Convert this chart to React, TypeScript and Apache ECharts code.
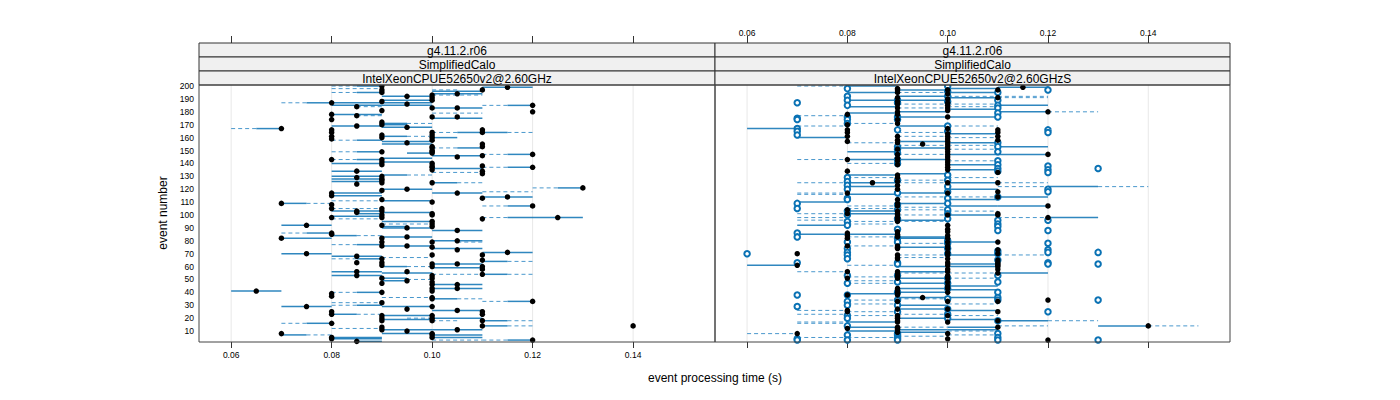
import React, { useEffect, useRef } from "react";
import * as echarts from "echarts";

// ---------- labels ----------
const stripTop = "g4.11.2.r06";
const stripMid = "SimplifiedCalo";
const panelMachines = ["IntelXeonCPUE52650v2@2.60GHz", "IntelXeonCPUE52650v2@2.60GHzS"];
const xTicks = [0.06, 0.08, 0.1, 0.12, 0.14];
const yTicks = [10, 20, 30, 40, 50, 60, 70, 80, 90, 100, 110, 120, 130, 140, 150, 160, 170, 180, 190, 200];
const xTitle = "event processing time (s)";
const yTitle = "event number";

// ---------- left panel (IntelXeonCPUE52650v2@2.60GHz) ----------
// black points: [time, event]
const leftDots: [number, number][] = [
  [0.09,200],[0.09,197],[0.09,195],[0.115,199],[0.11,197],[0.105,194],[0.095,192],[0.1,193],[0.1,191],[0.1,189],
  [0.095,186],[0.08,187],[0.09,188],[0.085,184],[0.12,185],[0.12,180],[0.105,183],[0.1,183],[0.09,181],[0.1,176],
  [0.105,176],[0.08,178],[0.085,177],[0.08,174],[0.085,169],[0.09,172],[0.09,170],[0.095,168],[0.07,167],[0.08,166],
  [0.08,164],[0.08,161],[0.08,159],[0.11,166],[0.11,164],[0.09,162],[0.09,160],[0.1,164],[0.1,162],[0.1,160],
  [0.1,158],[0.095,156],[0.11,155],[0.11,153],[0.1,153],[0.1,152],[0.1,150],[0.1,149],[0.1,148],[0.09,149],
  [0.12,147],[0.11,146],[0.105,145],[0.08,143],[0.09,143],[0.09,141],[0.09,139],[0.1,140],[0.1,138],[0.1,137],
  [0.1,135],[0.11,138],[0.11,134],[0.11,132],[0.12,137],[0.085,134],[0.085,129],[0.09,130],[0.09,128],[0.09,127],
  [0.09,125],[0.1,125],[0.085,124],[0.095,120],[0.09,119],[0.13,121],[0.105,117],[0.08,117],[0.08,115],[0.11,113],
  [0.115,114],[0.1,110],[0.09,112],[0.07,109],[0.08,108],[0.08,105],[0.12,107],[0.085,103],[0.09,105],[0.09,103],
  [0.1,101],
  [0.085,102],[0.09,100],[0.09,98],[0.08,98],[0.1,100],[0.125,98],[0.11,97],[0.1,95],[0.1,93],[0.1,91],
  [0.075,92],[0.09,92],[0.095,90],[0.105,88],[0.08,86],[0.08,85],[0.095,83],[0.09,82],[0.07,82],[0.105,80],
  [0.1,79],[0.09,79],[0.09,76],[0.095,76],[0.1,75],[0.105,73],[0.115,71],[0.11,69],[0.1,69],[0.075,70],
  [0.085,68],[0.085,63],[0.09,66],[0.09,63],[0.09,61],[0.11,65],[0.105,62],[0.1,62],[0.1,60],[0.11,58],
  [0.11,60],[0.085,56],[0.085,53],[0.095,56],[0.11,54],[0.1,53],[0.1,51],[0.1,48],[0.1,46],[0.1,43],
  [0.1,41],[0.09,51],[0.09,47],[0.095,49],[0.105,46],[0.105,43],[0.065,41],[0.09,40],[0.08,39],[0.08,37],
  [0.1,36],[0.1,35],[0.12,33],[0.09,32],[0.075,29],[0.1,29],[0.095,27],[0.105,26],[0.11,25],[0.11,23],
  [0.08,25],[0.08,23],[0.09,22],[0.09,20],[0.09,18],[0.1,22],[0.1,20],[0.1,18],[0.11,18],[0.08,16],
  [0.11,14],[0.09,13],[0.09,11],[0.105,11],[0.095,10],[0.07,8],[0.1,8],[0.1,7],[0.1,5],[0.08,5],
  [0.08,4],[0.085,2],[0.12,3],[0.14,14],
];
// solid runs: [event, from, to]
const leftSolid: [number, number, number][] = [
  [200,0.085,0.09],[195,0.085,0.09],[199,0.11,0.12],[196,0.1,0.11],[194,0.1,0.11],[192,0.09,0.1],[189,0.09,0.1],
  [187,0.09,0.1],[185,0.09,0.1],[187,0.075,0.08],[187,0.08,0.09],[185,0.08,0.09],[185,0.115,0.12],[183,0.1,0.11],
  [175,0.1,0.11],[178,0.08,0.09],[169,0.08,0.09],[171,0.09,0.095],[170,0.09,0.095],[168,0.09,0.1],[167,0.065,0.07],
  [164,0.105,0.11],[164,0.11,0.115],[161,0.09,0.095],[160,0.1,0.105],[158,0.085,0.09],[157,0.09,0.1],[155,0.09,0.1],
  [152,0.105,0.11],[148,0.095,0.1],[149,0.085,0.09],[147,0.115,0.12],[146,0.1,0.11],[143,0.085,0.09],[144,0.09,0.1],
  [141,0.09,0.1],[140,0.08,0.09],[137,0.115,0.12],[136,0.1,0.11],[134,0.08,0.09],[131,0.09,0.095],[130,0.08,0.09],
  [128,0.08,0.09],[126,0.08,0.09],[125,0.1,0.105],[120,0.09,0.1],[121,0.125,0.13],[117,0.1,0.11],[117,0.08,0.09],
  [115,0.08,0.09],[114,0.11,0.12],[111,0.09,0.1],[109,0.07,0.075],[107,0.115,0.12],[103,0.08,0.09],[102,0.09,0.1],
  [101,0.085,0.09],[99,0.08,0.09],[98,0.115,0.13],[95,0.09,0.1],[92,0.07,0.08],[91,0.09,0.095],[90,0.09,0.1],
  [88,0.1,0.11],[86,0.075,0.08],[84,0.08,0.085],[83,0.09,0.1],[82,0.07,0.08],[80,0.1,0.11],[77,0.085,0.09],
  [76,0.09,0.1],[74,0.1,0.11],[71,0.11,0.12],[70,0.07,0.08],[68,0.08,0.09],[66,0.085,0.09],[64,0.11,0.115],
  [62,0.1,0.11],[60,0.09,0.095],[59,0.1,0.11],[56,0.08,0.09],[53,0.08,0.09],[55,0.09,0.1],[54,0.11,0.115],
  [51,0.09,0.095],[49,0.09,0.095],[46,0.1,0.11],[43,0.1,0.11],[41,0.06,0.07],[40,0.085,0.09],[35,0.1,0.105],
  [33,0.115,0.12],[30,0.085,0.09],[29,0.07,0.08],[29,0.09,0.1],[26,0.1,0.11],[23,0.08,0.085],[22,0.09,0.1],
  [19,0.09,0.1],[20,0.1,0.11],[18,0.11,0.115],[16,0.075,0.08],[14,0.11,0.115],[11,0.09,0.1],[11,0.1,0.11],
  [8,0.09,0.1],[7,0.07,0.075],[7,0.1,0.11],[5,0.1,0.11],[5,0.08,0.09],[4,0.08,0.09],[2,0.085,0.09],[3,0.115,0.12],
];
// dashed runs: [event, from, to]
const leftDashed: [number, number, number][] = [
  [200,0.08,0.085],[198,0.08,0.09],[195,0.08,0.085],[197,0.1,0.105],[193,0.1,0.11],[187,0.07,0.075],[184,0.085,0.09],
  [185,0.11,0.115],[179,0.1,0.11],[177,0.085,0.09],[171,0.095,0.1],[167,0.06,0.065],[164,0.1,0.105],[164,0.115,0.12],
  [161,0.095,0.1],[158,0.08,0.085],[152,0.1,0.105],[149,0.08,0.085],[147,0.11,0.115],[143,0.08,0.085],[137,0.11,0.115],
  [133,0.1,0.11],[131,0.095,0.1],[125,0.105,0.11],[121,0.12,0.125],[118,0.11,0.12],[111,0.08,0.09],[109,0.075,0.08],
  [107,0.11,0.115],[105,0.08,0.09],
  [97,0.08,0.09],[98,0.11,0.115],[93,0.09,0.1],[86,0.07,0.075],[84,0.085,0.09],[79,0.105,0.11],[77,0.08,0.085],
  [67,0.09,0.1],[66,0.08,0.085],[64,0.115,0.12],[60,0.095,0.1],[54,0.1,0.11],[54,0.115,0.12],[50,0.095,0.1],
  [40,0.08,0.085],[36,0.09,0.1],[35,0.105,0.11],[33,0.11,0.115],[32,0.08,0.09],[30,0.08,0.085],[23,0.085,0.09],
  [20,0.095,0.1],[18,0.1,0.105],[18,0.115,0.12],[16,0.07,0.075],[14,0.115,0.12],[12,0.08,0.09],[7,0.075,0.08],
  [3,0.1,0.11],[3,0.11,0.115],
];

// ---------- right panel (IntelXeonCPUE52650v2@2.60GHzS) ----------
// open blue points per time column: [time, events]
const rightRings: [number, number[]][] = [
  [0.06, [70]],
  [0.07, [187,175,174,167,165,162,109,105,86,83,63,38,29,4,3]],
  [0.08, [198,192,189,185,176,174,171,129,126,123,120,113,112,103,100,95,92,79,74,71,69,66,53,47,38,33,30,22,20,14,7,3]],
  [0.09, [189,187,176,174,166,153,151,148,143,140,127,117,108,104,97,89,82,79,63,62,53,48,40,34,30,25,8,7,5,4,3]],
  [0.1, [200,196,192,188,169,165,131,127,122,118,113,109,104,101,97,80,78,74,70,51,47,43,35,27,23,20]],
  [0.11, [195,189,185,183,179,176,156,153,149,142,139,136,134,114,96,93,91,88,72,70,65,53,48,40,36,34,18,8,5,3]],
  [0.12, [197,166,164,138,135,133,120,118,96,88,78,73,71,63,62,25]],
  [0.13, [136,71,62,34,3]],
];
// black points per time column: [time, events]
const rightDots: [number, number[]][] = [
  [0.07, [70,61,8]],
  [0.08, [178,170,166,164,161,157,143,134,117,104,101,86,84,82,76,56,51,38,26,25,12]],
  [0.085, [125]],
  [0.09, [198,197,195,191,188,186,183,180,178,174,171,161,158,156,151,147,144,142,139,131,129,126,123,120,112,109,107,103,
    101,100,98,97,96,95,87,85,84,83,76,75,74,69,67,66,56,55,53,52,51,43,42,40,39,38,33,27,22,21,20,18,17,13,12,11,9]],
  [0.095, [155,36]],
  [0.1, [197,194,190,187,185,183,181,176,167,163,161,159,157,155,153,151,149,147,145,143,141,139,137,135,125,117,
    100,92,89,87,84,82,79,76,74,71,69,66,63,61,58,56,53,51,48,45,43,40,33,27,22,17,8,4]],
  [0.11, [197,191,166,164,161,158,133,125,118,114,101,100,79,73,70,65,63,62,61,60,58,55,33,25,18,13]],
  [0.115, [199]],
  [0.12, [180,147,107,98,34,3]],
  [0.14, [14]],
];
// solid runs grouped by interval: [from, to, events]
const rightSolid: [number, number, number[]][] = [
  [0.06, 0.07, [167,61]],
  [0.07, 0.08, [160,110,92,85]],
  [0.08, 0.09, [200,195,189,184,179,149,143,131,125,122,116,103,101,85,39,17,13,10]],
  [0.09, 0.1, [197,192,189,180,176,169,157,152,143,132,117,109,96,83,82,75,60,56,51,47,43,40,36,30,27,20,11,9]],
  [0.1, 0.11, [198,195,191,182,176,163,156,147,139,135,125,120,112,107,100,79,69,62,60,45,42,36,26,19,13,11]],
  [0.11, 0.12, [199,185,180,153,147,114,107,55,18]],
  [0.12, 0.13, [122,98]],
  [0.13, 0.14, [14]],
];
// dashed runs grouped by interval: [from, to, events]
const rightDashed: [number, number, number[]][] = [
  [0.06, 0.07, [8]],
  [0.07, 0.08, [200,177,169,143,125,117,116,101,98,96,56,26,23,17,16,5]],
  [0.08, 0.09, [171,156,140,129,107,105,95,93,83,76,61,52,49,47,34,31,25,22,5]],
  [0.09, 0.1, [195,186,183,164,161,154,147,127,125,114,106,104,100,95,78,69,67,55,35,23,13,6]],
  [0.1, 0.11, [192,186,184,169,160,154,151,142,129,114,103,55,51,31,22,10,7]],
  [0.11, 0.12, [192,191,125,122,98,69,14]],
  [0.12, 0.13, [180,18]],
  [0.13, 0.14, [122]],
  [0.14, 0.15, [14]],
];

// ---------- helpers ----------
const X_MIN = 0.0536;
const X_MAX = 0.1563;
const Y_MIN = 1.5;
const Y_MAX = 200.8;
const BLUE = "#0a72b4";
const FONT = "Liberation Sans, Arial, Helvetica, sans-serif";

const flattenRuns = (runs: [number, number, number[]][]) =>
  runs.flatMap(([a, b, evs]) => evs.map((e) => [a, b, e]));
const flattenCols = (cols: [number, number[]][]) =>
  cols.flatMap(([x, evs]) => evs.map((e) => [x, e]));

function segSeries(data: number[][], gi: number, dashed: boolean) {
  return {
    type: "custom",
    xAxisIndex: gi * 2,
    yAxisIndex: gi,
    silent: true,
    clip: true,
    data,
    encode: { x: [0, 1], y: 2 },
    renderItem: (_p: any, api: any) => {
      const a = api.coord([api.value(0), api.value(2)]);
      const b = api.coord([api.value(1), api.value(2)]);
      return {
        type: "line",
        shape: { x1: a[0], y1: a[1], x2: b[0], y2: b[1] },
        style: dashed
          ? { stroke: "#2a86c4", lineWidth: 1, lineDash: [4, 3], opacity: 0.85 }
          : { stroke: BLUE, lineWidth: 1.5, opacity: 0.85 },
      };
    },
  };
}

function gridSeries(gi: number) {
  return {
    type: "custom",
    xAxisIndex: gi * 2,
    yAxisIndex: gi,
    silent: true,
    z: 0,
    data: xTicks.map((x) => [x]),
    encode: { x: 0 },
    renderItem: (_p: any, api: any) => {
      const a = api.coord([api.value(0), Y_MIN]);
      const b = api.coord([api.value(0), Y_MAX]);
      return {
        type: "line",
        shape: { x1: a[0], y1: a[1], x2: b[0], y2: b[1] },
        style: { stroke: "#e8e8e8", lineWidth: 1 },
      };
    },
  };
}

const dotSeries = (data: number[][], gi: number) => ({
  type: "scatter",
  xAxisIndex: gi * 2,
  yAxisIndex: gi,
  silent: true,
  data,
  symbol: "circle",
  symbolSize: 5.5,
  itemStyle: { color: "#000", opacity: 1 },
  z: 4,
});

const ringSeries = (data: number[][], gi: number) => ({
  type: "scatter",
  xAxisIndex: gi * 2,
  yAxisIndex: gi,
  silent: true,
  data,
  symbol: "emptyCircle",
  symbolSize: 5.5,
  itemStyle: { color: BLUE, borderColor: BLUE, borderWidth: 1.3, opacity: 1 },
  z: 3,
});

const panels = [
  { left: 199, width: 516 },
  { left: 715, width: 515 },
];
const PLOT_TOP = 85;
const PLOT_H = 257;

function xAxes(gi: number, labelsBottom: boolean) {
  const common = {
    gridIndex: gi,
    type: "value",
    min: X_MIN,
    max: X_MAX,
    axisLine: { show: false },
    splitLine: { show: false },
  };
  return [
    {
      ...common,
      position: "bottom",
      axisTick: { show: true, customValues: xTicks, length: 6, lineStyle: { color: "#333" } },
      axisLabel: {
        show: labelsBottom,
        customValues: xTicks,
        formatter: (v: number) => v.toFixed(2),
        fontSize: 8.5,
        fontFamily: FONT,
        color: "#000",
        margin: 8,
      },
    },
    {
      ...common,
      position: "top",
      offset: 42,
      axisTick: { show: true, customValues: xTicks, length: 7, lineStyle: { color: "#333" } },
      axisLabel: {
        show: !labelsBottom,
        customValues: xTicks,
        formatter: (v: number) => v.toFixed(2),
        fontSize: 8.5,
        fontFamily: FONT,
        color: "#000",
        margin: 6,
      },
    },
  ];
}

function buildOption() {
  const graphic: any[] = [];
  panels.forEach((p, i) => {
    const texts = [stripTop, stripMid, panelMachines[i]];
    texts.forEach((t, r) => {
      const y = 43 + r * 14;
      graphic.push({
        type: "rect",
        shape: { x: p.left, y, width: p.width, height: 14 },
        style: { fill: "#f0f0f0", stroke: "#333", lineWidth: 1 },
        z: 10,
      });
      graphic.push({
        type: "text",
        x: p.left + p.width / 2,
        y: y + 7.5,
        style: {
          text: t,
          fill: "#000",
          font: `12px ${FONT}`,
          textAlign: "center",
          textVerticalAlign: "middle",
        },
        z: 11,
      });
    });
    graphic.push({
      type: "rect",
      shape: { x: p.left, y: PLOT_TOP, width: p.width, height: PLOT_H },
      style: { fill: "none", stroke: "#444", lineWidth: 1 },
      z: 12,
    });
  });
  graphic.push({
    type: "text",
    x: 715,
    y: 378,
    style: { text: xTitle, fill: "#000", font: `12px ${FONT}`, textAlign: "center", textVerticalAlign: "middle" },
  });
  graphic.push({
    type: "text",
    x: 163,
    y: 213,
    rotation: Math.PI / 2,
    style: { text: yTitle, fill: "#000", font: `12px ${FONT}`, textAlign: "center", textVerticalAlign: "middle" },
  });

  const leftSolidData = leftSolid.map(([e, a, b]) => [a, b, e]);
  const leftDashedData = leftDashed.map(([e, a, b]) => [a, b, e]);

  return {
    animation: false,
    backgroundColor: "#fff",
    grid: panels.map((p) => ({ left: p.left, top: PLOT_TOP, width: p.width, height: PLOT_H })),
    xAxis: [...xAxes(0, true), ...xAxes(1, false)],
    yAxis: panels.map((_p, i) => ({
      gridIndex: i,
      type: "value",
      min: Y_MIN,
      max: Y_MAX,
      axisLine: { show: false },
      axisTick: { show: false },
      splitLine: { show: false },
      axisLabel: {
        show: i === 0,
        customValues: yTicks,
        fontSize: 8.5,
        fontFamily: FONT,
        color: "#000",
        margin: 5,
      },
    })),
    graphic,
    series: [
      gridSeries(0),
      gridSeries(1),
      segSeries(leftDashedData, 0, true),
      segSeries(leftSolidData, 0, false),
      dotSeries(leftDots, 0),
      segSeries(flattenRuns(rightDashed), 1, true),
      segSeries(flattenRuns(rightSolid), 1, false),
      ringSeries(flattenCols(rightRings), 1),
      dotSeries(flattenCols(rightDots), 1),
    ],
  };
}

export default function App() {
  const ref = useRef<HTMLDivElement>(null);
  useEffect(() => {
    if (!ref.current) return;
    const chart = echarts.init(ref.current, null, { renderer: "svg" });
    chart.setOption(buildOption() as any);
    return () => chart.dispose();
  }, []);
  return (
    <div
      ref={ref}
      style={{ position: "fixed", left: 0, top: 0, width: 1400, height: 400, background: "#fff" }}
    />
  );
}
